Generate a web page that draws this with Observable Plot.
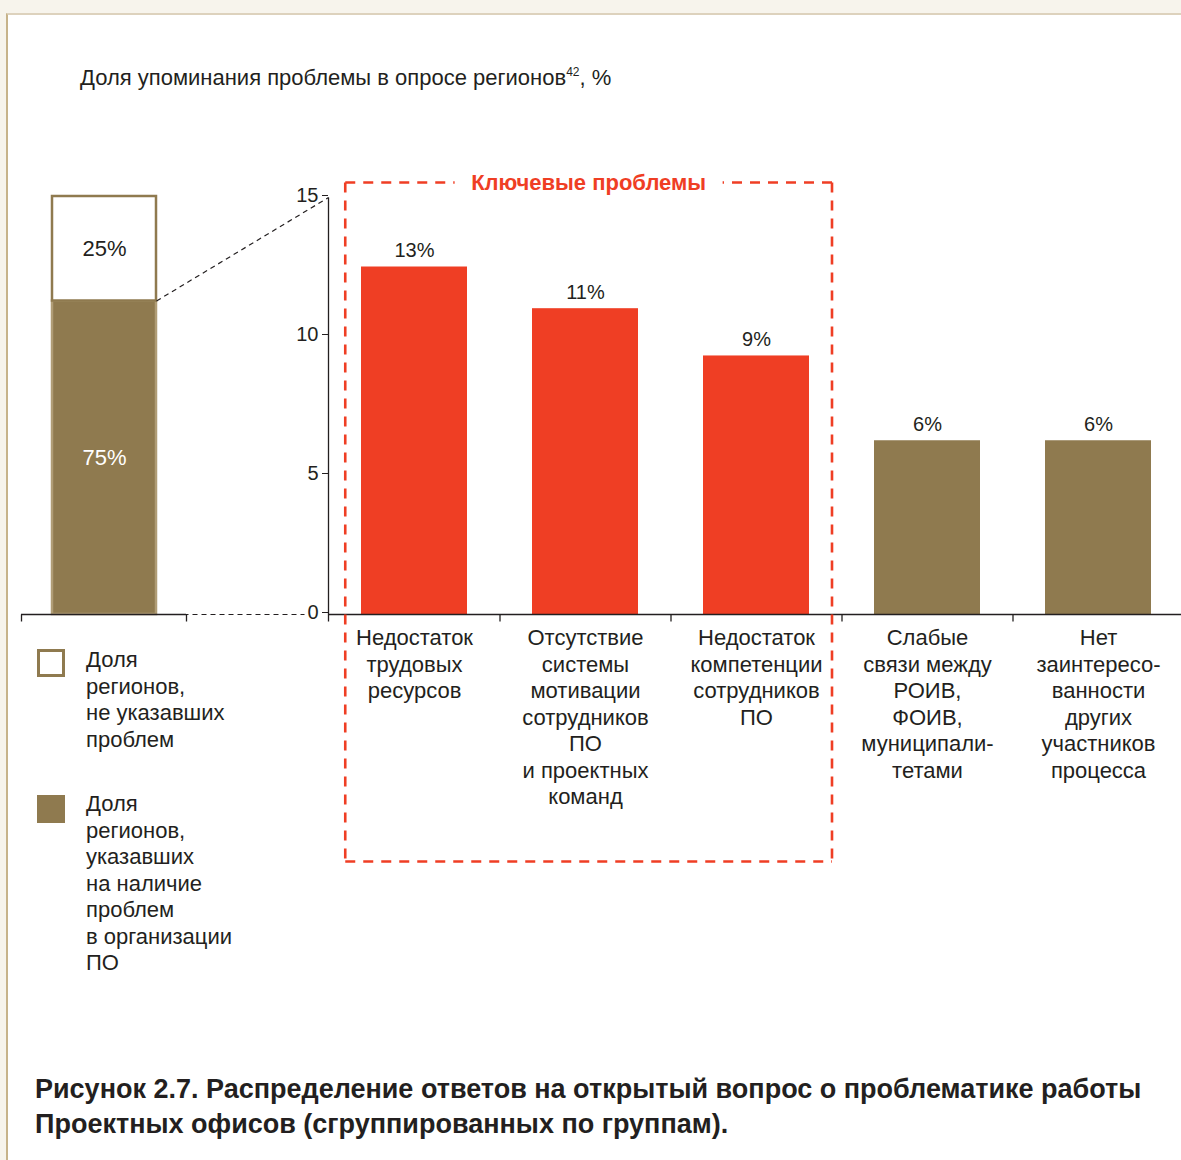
<!DOCTYPE html>
<html>
<head>
<meta charset="utf-8">
<script src="https://cdn.jsdelivr.net/npm/d3@7"></script>
<script src="https://cdn.jsdelivr.net/npm/@observablehq/plot@0.6"></script>
<style>
  html, body { margin: 0; padding: 0; background: #fff; }
  #page { position: relative; width: 1181px; height: 1160px; overflow: hidden; background: #f7f4ec;
          font-family: "Liberation Sans", Arial, Helvetica, sans-serif; color: #231f20; }
  #sheet { position: absolute; left: 6px; top: 13px; right: -2px; bottom: -2px; background: #fff;
           border-left: 2px solid #c7b38a; border-top: 2px solid #ddd2bd; }
  .layer { position: absolute; left: 0; top: 0; }
  .layer svg { display: block; max-width: none; }
  #subtitle { position: absolute; left: 80px; top: 65px; font-size: 22px; line-height: 26px; white-space: nowrap; }
  #subtitle sup { font-size: 12px; vertical-align: 0; position: relative; top: -9px; }
  .sw { position: absolute; left: 37px; width: 28px; height: 28px; box-sizing: border-box; }
  .lt { position: absolute; left: 86px; font-size: 22px; line-height: 26.5px; white-space: pre; }
  #caption { position: absolute; left: 35px; top: 1072px; font-size: 27px; font-weight: bold; line-height: 35px; white-space: nowrap; }
</style>
</head>
<body>
<div id="page">
  <div id="sheet"></div>
  <div id="subtitle"></div>
  <div id="chart"></div>
  <div id="legend"></div>
  <div id="caption"></div>
</div>
<script>
// ---------- data ----------
const categories = [
  "Недостаток\nтрудовых\nресурсов",
  "Отсутствие\nсистемы\nмотивации\nсотрудников\nПО\nи проектных\nкоманд",
  "Недостаток\nкомпетенции\nсотрудников\nПО",
  "Слабые\nсвязи между\nРОИВ,\nФОИВ,\nмуниципали-\nтетами",
  "Нет\nзаинтересо-\nванности\nдругих\nучастников\nпроцесса"
];
const values = [12.5, 11.0, 9.3, 6.25, 6.25];
const valueLabels = ["13%", "11%", "9%", "6%", "6%"];
const isKeyProblem = [true, true, true, false, false];
const yTicks = [0, 5, 10, 15];

const shareGroups = ["указавшие проблемы", "не указавшие проблем"];
const shareValues = [75, 25];
const shareLabels = ["75%", "25%"];

const legendLabels = [
  "Доля\nрегионов,\nне указавших\nпроблем",
  "Доля\nрегионов,\nуказавших\nна наличие\nпроблем\nв организации\nПО"
];
const boxTitle = "Ключевые проблемы";
const subtitleText = "Доля упоминания проблемы в опросе регионов";
const subtitleNote = "42";
const captionLines = [
  "Рисунок 2.7. Распределение ответов на открытый вопрос о проблематике работы",
  "Проектных офисов (сгруппированных по группам)."
];

// ---------- style ----------
const RED = "#ef3e24", BROWN = "#8f7a4f", BROWN_EDGE = "#b09d76", INK = "#231f20";
const FONT = '"Liberation Sans", Arial, Helvetica, sans-serif';
const W = 1181, H = 1040;
const baseStyle = {background: "transparent", fontFamily: FONT, fontSize: "20px", color: INK, overflow: "visible"};

// ---------- text blocks ----------
document.getElementById("subtitle").innerHTML = subtitleText + "<sup>" + subtitleNote + "</sup>, %";
document.getElementById("caption").innerHTML = captionLines.join("<br>");

const rows = categories.map((c, i) => ({cat: c, value: values[i], label: valueLabels[i], key: isKeyProblem[i]}));
const shares = shareGroups.map((g, i) => ({group: g, v: shareValues[i], label: shareLabels[i]}));

// ---------- main bar chart ----------
const right = Plot.plot({
  width: W, height: H,
  marginLeft: 328, marginRight: 0, marginTop: 197, marginBottom: H - 614,
  style: baseStyle,
  x: {domain: categories, range: [328, 1185], paddingInner: 0.38, paddingOuter: 0.19, axis: null},
  y: {domain: [0, 15], axis: null},
  color: {type: "identity"},
  marks: [
    Plot.barY(rows, {x: "cat", y: "value", fill: d => d.key ? RED : BROWN}),
    Plot.text(rows, {x: "cat", y: "value", text: "label", lineAnchor: "bottom", dy: -10, fontSize: 20, fill: INK}),
    Plot.text(rows, {x: "cat", y: () => 0, text: "cat", lineAnchor: "top", dy: 12, fontSize: 22, lineHeight: 1.2045, fill: INK}),
    Plot.ruleY([0], {stroke: INK, strokeWidth: 1.3}),
    Plot.axisY({ticks: yTicks, tickSize: 6, tickPadding: 4, fontSize: 20, stroke: INK, fill: INK, label: null, dy: -2})
  ]
});

// ---------- left 100% bar ----------
const left = Plot.plot({
  width: W, height: H,
  marginLeft: 21, marginRight: W - 186, marginTop: 196, marginBottom: H - 614,
  style: baseStyle,
  x: {domain: ["all"], paddingInner: 0, paddingOuter: 0.29, axis: null},
  y: {domain: [0, 100], axis: null},
  color: {type: "identity"},
  marks: [
    Plot.barY(shares, {x: () => "all", y: "v", fill: (d, i) => i === 0 ? BROWN : "white",
      stroke: (d, i) => i === 0 ? BROWN_EDGE : BROWN, strokeWidth: 2.5}),
    Plot.text(shares, Plot.stackY({x: () => "all", y: "v", text: "label", fontSize: 22,
      fill: (d, i) => i === 0 ? "white" : INK})),
    Plot.ruleY([0], {stroke: INK, strokeWidth: 1.3})
  ]
});

// ---------- overlay: axis lines, ticks, connectors, key-problem frame ----------
const xs = right.scale("x"), yr = right.scale("y");
const xl = left.scale("x"), yl = left.scale("y");
const gap = xs.step - xs.bandwidth;
const boundary = i => xs.apply(categories[i]) - gap / 2;
const y0 = yr.apply(0), y15 = yr.apply(15);
const axisX = xs.range[0];
const leftBarRight = xl.apply("all") + xl.bandwidth;

const solid = [
  {x1: axisX, y1: y15, x2: axisX, y2: y0 + 7},
  ...[1, 2, 3, 4].map(i => ({x1: boundary(i), y1: y0, x2: boundary(i), y2: y0 + 7})),
  ...xl.range.map(x => ({x1: x, y1: y0, x2: x, y2: y0 + 7}))
];
const connectors = [
  {x1: leftBarRight, y1: yl.apply(shareValues[0]), x2: axisX, y2: y15},
  {x1: leftBarRight, y1: y0, x2: axisX - 24, y2: y0}
];
const bx1 = boundary(0) + (xs.apply(categories[0]) - boundary(0)) / 2;
const bx2 = boundary(3) - 10;
const byTop = y15 - 15, byBot = 861;
const bmid = (bx1 + bx2) / 2, half = 134;
const frame = [
  {x1: bx1, y1: byTop, x2: bx1, y2: byBot},
  {x1: bx2, y1: byTop, x2: bx2, y2: byBot},
  {x1: bx1, y1: byBot, x2: bx2, y2: byBot},
  {x1: bx1, y1: byTop, x2: bmid - half, y2: byTop},
  {x1: bx2, y1: byTop, x2: bmid + half, y2: byTop}
];

const overlay = Plot.plot({
  width: W, height: H, margin: 0,
  style: baseStyle,
  x: {type: "identity", axis: null}, y: {type: "identity", axis: null},
  marks: [
    Plot.link(solid, {x1: "x1", y1: "y1", x2: "x2", y2: "y2", stroke: INK, strokeWidth: 1.3}),
    Plot.link(connectors, {x1: "x1", y1: "y1", x2: "x2", y2: "y2", stroke: INK, strokeWidth: 1.2, strokeDasharray: "5,4"}),
    Plot.link(frame, {x1: "x1", y1: "y1", x2: "x2", y2: "y2", stroke: RED, strokeWidth: 2.6, strokeDasharray: "10,8"}),
    Plot.text([{x: bmid, y: byTop}], {x: "x", y: "y", text: () => boxTitle, fill: RED, fontWeight: "bold", fontSize: 22})
  ]
});

const chart = document.getElementById("chart");
for (const svg of [right, left, overlay]) {
  const d = document.createElement("div");
  d.className = "layer";
  d.appendChild(svg);
  chart.appendChild(d);
}

// ---------- legend ----------
const legend = document.getElementById("legend");
const swTops = [649, 795], textTops = [647, 791];
legendLabels.forEach((t, i) => {
  const s = document.createElement("div");
  s.className = "sw";
  s.style.top = swTops[i] + "px";
  if (i === 0) { s.style.background = "#fff"; s.style.border = "3px solid " + BROWN; }
  else { s.style.background = BROWN; }
  legend.appendChild(s);
  const l = document.createElement("div");
  l.className = "lt";
  l.style.top = textTops[i] + "px";
  l.textContent = t;
  legend.appendChild(l);
});
</script>
</body>
</html>
